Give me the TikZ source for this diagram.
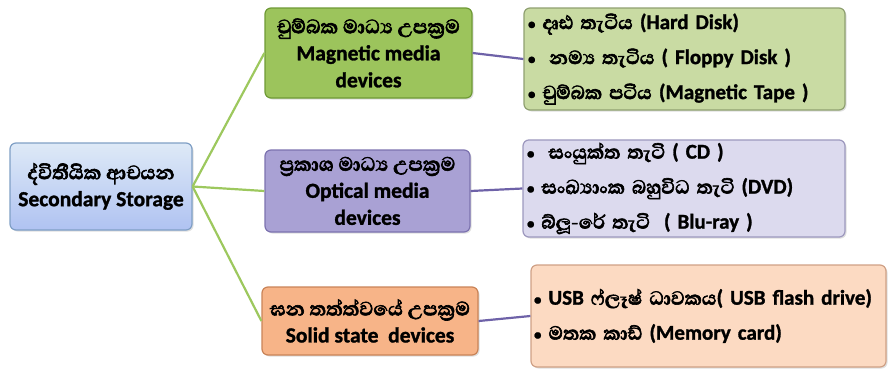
\documentclass[tikz,border=0pt]{standalone}
\usepackage{fontspec}
\setmainfont{Carlito}[BoldFeatures={FakeBold=1.3}]
\newfontfamily\sinhalafont[Script=Sinhala, Scale=1.15, FakeBold=2.5]{Abhaya Libre}
\newcommand{\si}[1]{{\sinhalafont #1}}
\newcommand{\dotitem}{{\fontsize{15}{15}\selectfont•}}
\usetikzlibrary{positioning,shadows}

\definecolor{rootfill}{HTML}{C3D8F0}
\definecolor{rootline}{HTML}{7F9FC5}
\definecolor{magfill}{HTML}{9CC45C}
\definecolor{magline}{HTML}{6E9A35}
\definecolor{optfill}{HTML}{A9A1D4}
\definecolor{optline}{HTML}{7C72AF}
\definecolor{solfill}{HTML}{F7B488}
\definecolor{solline}{HTML}{C98357}
\definecolor{maglist}{HTML}{C9DBA3}
\definecolor{maglistline}{HTML}{8FA070}
\definecolor{optlist}{HTML}{DCDAEE}
\definecolor{optlistline}{HTML}{9D98BE}
\definecolor{sollist}{HTML}{FCDAC2}
\definecolor{sollistline}{HTML}{CFA085}
\definecolor{greenlink}{HTML}{9DC85E}
\definecolor{purplelink}{HTML}{6E62A8}

\tikzset{
  box/.style={draw, line width=1.2pt, rounded corners=6pt, align=center,
    font=\bfseries\fontsize{21.5}{27}\selectfont, inner sep=3pt,
    drop shadow={shadow xshift=1.5pt, shadow yshift=-1.5pt, opacity=0.25}},
  listbox/.style={box, align=left, font=\bfseries\fontsize{21}{35}\selectfont,
    text width=#1},
  glink/.style={greenlink, line width=2.2pt},
  plink/.style={purplelink, line width=2.2pt}
}

\begin{document}
\begin{tikzpicture}[x=1pt,y=-1pt]
  \useasboundingbox (0,0) rectangle (888,370);
  % middle level and root
  \node[box, fill=rootfill, draw=rootline, top color=rootfill!55!white, bottom color=rootfill!90!blue,
    minimum width=182pt, minimum height=87pt] (root) at (101,186.5)
    {\si{ද්විතීයික ආචයන}\\Secondary Storage};
  \node[box, fill=magfill, draw=magline, minimum width=207pt, minimum height=90pt] (mag) at (368.5,53)
    {\si{චුම්බක මාධ්‍ය උපක්‍රම}\\Magnetic media\\devices};
  \node[box, fill=optfill, draw=optline, minimum width=205pt, minimum height=82pt] (opt) at (367.5,191)
    {\si{ප්‍රකාශ මාධ්‍ය උපක්‍රම}\\Optical media\\devices};
  \node[box, fill=solfill, draw=solline, minimum width=216pt, minimum height=68pt] (sol) at (370,321)
    {\si{ඝන තත්ත්වයේ උපක්‍රම}\\Solid state~~devices};
  % device lists
  \node[listbox=313pt, fill=maglist, draw=maglistline, minimum width=321pt, minimum height=102pt] (maglst) at (684.5,59)
    {\dotitem{} \si{දෘඪ තැටිය} (Hard Disk)\\
     \dotitem{}~~\si{නම්‍ය තැටිය} ( Floppy Disk )\\
     \dotitem{} \si{චුම්බක පටිය} (Magnetic Tape )};
  \node[listbox=314pt, fill=optlist, draw=optlistline, minimum width=322pt, minimum height=97pt] (optlst) at (684,188.5)
    {\dotitem{}~~\si{සංයුක්ත තැටි} ( CD )\\
     \dotitem{} \si{සංඛ්‍යාංක බහුවිධ තැටි} (DVD)\\
     \dotitem{} \si{බ්ලූ-රේ තැටි}~~( Blu-ray )};
  \node[listbox=349pt, fill=sollist, draw=sollistline, minimum width=355pt, minimum height=102pt] (sollst) at (708.5,316)
    {\dotitem{} USB \si{ෆ්ලෑෂ් ධාවකය}( USB flash drive)\\
     \dotitem{} \si{මතක කාඩ්} (Memory card)};
  % links
  \draw[glink] (root.east) -- (mag.west);
  \draw[glink] (root.east) -- (opt.west);
  \draw[glink] (root.east) -- (sol.west);
  \draw[plink] (mag.east) -- (maglst.west);
  \draw[plink] (opt.east) -- (optlst.west);
  \draw[plink] (sol.east) -- (sollst.west);
\end{tikzpicture}
\end{document}
